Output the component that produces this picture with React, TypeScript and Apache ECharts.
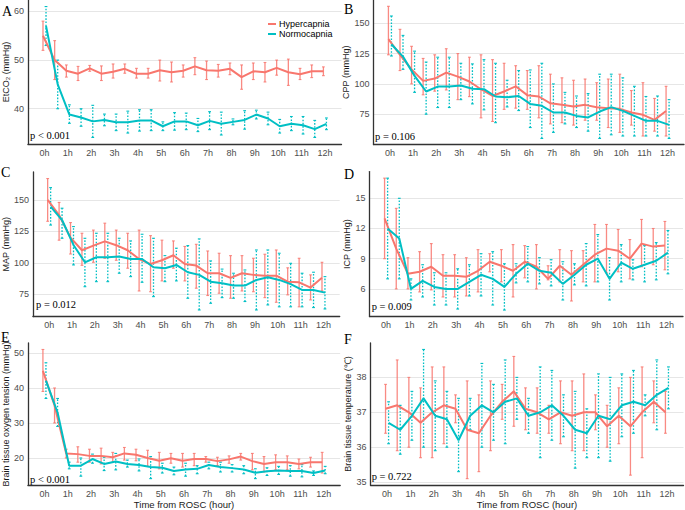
import React, { useEffect, useRef } from "react";
import * as echarts from "echarts";

const hours = [0, 0.5, 1, 1.5, 2, 2.5, 3, 3.5, 4, 4.5, 5, 5.5, 6, 6.5, 7, 7.5, 8, 8.5, 9, 9.5, 10, 10.5, 11, 11.5, 12];
const hourTicks = [0, 1, 2, 3, 4, 5, 6, 7, 8, 9, 10, 11, 12];
const groups = ["Hypercapnia", "Normocapnia"];

// A: EtCO2
const etco2HyperMean = [55, 50, 47.8, 47.2, 48.3, 47.2, 47.6, 48.2, 47.2, 47.2, 47.9, 47.5, 47.8, 48.7, 47.9, 47.8, 48.2, 46.5, 47.7, 47.5, 48.4, 47.5, 47.1, 47.7, 47.7];
const etco2HyperLo = [52, 46, 46.5, 45.8, 47.7, 45.8, 46.3, 47.3, 46.3, 46.3, 45.7, 45.5, 46.5, 47, 46, 46.5, 47, 44, 46, 45.5, 46.9, 44.8, 46, 46.4, 46.8];
const etco2HyperHi = [58, 54, 49, 48.7, 48.9, 48.8, 49.2, 49.2, 48.3, 48.3, 50, 49.6, 49, 50.5, 49.8, 49.1, 49.4, 49, 49.4, 49.5, 50, 50.2, 48.3, 49, 48.6];
const etco2NormoMean = [57, 45, 38.8, 38.2, 37.4, 37.7, 37.2, 37.2, 37.6, 37.6, 36.4, 37.4, 37.4, 36.6, 37.5, 36.9, 37.3, 37.7, 38.8, 38.0, 36.4, 36.9, 36.6, 35.8, 36.9];
const etco2NormoLo = [53, 40, 37, 36.4, 34.1, 36.5, 35.5, 35, 35.4, 35.5, 35.5, 35.6, 35.7, 35.3, 35.7, 34.6, 36.7, 35.8, 37.9, 36.7, 35, 35.5, 34.8, 34.1, 35.7];
const etco2NormoHi = [61, 50, 40.8, 40, 40.7, 38.9, 38.9, 39.5, 39.8, 39.8, 37.3, 39.2, 39.1, 38, 39.4, 39.3, 37.9, 39.6, 39.7, 39.3, 37.8, 38.4, 38.4, 37.6, 38.1];

// B: CPP
const cppHyperMean = [137, 124, 112, 102.5, 104.4, 109.3, 106, 102, 95.6, 90, 93.7, 98, 90.7, 89.6, 84, 82.7, 81.3, 82.7, 80.8, 80, 79.4, 76.4, 74.5, 70.3, 77.7];
const cppHyperLo = [124, 111, 100, 91, 94, 95, 87, 89.5, 72, 69, 79, 80, 79, 72, 67, 68, 66, 70, 70, 64, 60, 66, 57, 61, 57];
const cppHyperHi = [164, 145, 131, 121, 124, 129, 125, 122, 124, 120, 117, 115, 111, 115, 108, 105, 103, 104, 101, 104, 108, 94.5, 101, 88, 98];
const cppNormoMean = [132.7, 122.5, 106.6, 93.7, 97.8, 97.8, 98.6, 96, 95.6, 89.6, 89, 90, 83.5, 81.9, 76.4, 76.4, 73.6, 72.3, 77.2, 80.8, 77.7, 73.6, 69.5, 69.5, 66.2];
const cppNormoLo = [123, 112, 93, 75, 80.5, 80.5, 87, 83.5, 78.6, 68, 81, 78, 64, 55, 60, 67, 64, 61, 55, 58, 57, 57, 57, 57, 55];
const cppNormoHi = [156, 140, 127, 118, 122, 122, 117, 116.5, 120, 117, 103, 111, 111.5, 117, 100, 93, 90, 92, 108, 108, 105, 98, 89.6, 90, 87];

// C: MAP
const mapHyperMean = [150, 138, 120, 110, 113.7, 117, 114, 110, 103, 99, 102, 106, 99, 97.8, 91.7, 91.7, 88, 91.7, 90.4, 89.8, 89.8, 85, 84.5, 80.3, 88.2];
const mapHyperLo = [133, 118, 107, 98, 100.4, 103.6, 102, 95.7, 77.6, 77, 85.6, 95.7, 85.6, 79.8, 74, 75.8, 71.8, 77.6, 77, 72.3, 68.6, 74.5, 65, 70.5, 77.6];
const mapHyperHi = [167, 148, 132, 123.5, 126, 131.5, 126, 123.5, 126, 121.6, 118, 117.4, 113, 114.7, 109.4, 107.6, 105.7, 105.7, 103.6, 106.8, 110.2, 96, 103.6, 90.4, 100.4];
const mapNormoMean = [144.7, 134, 114.2, 100.4, 104.4, 104.4, 105, 103, 103, 96.5, 95.7, 98.3, 92.5, 90.4, 85, 83.7, 81.9, 81.9, 86.4, 88.5, 86.4, 83, 78.4, 78.4, 76.3];
const mapNormoLo = [130, 119.5, 98.3, 81, 85, 85, 91.7, 89, 84.5, 73.1, 85, 85.6, 71.8, 62.5, 67.8, 72.3, 71.8, 69.2, 62.5, 66.5, 65, 65, 65, 64.4, 63.3];
const mapNormoHi = [159.8, 143.4, 128.8, 119.5, 123.5, 123.5, 119.5, 117.4, 122.7, 119.5, 105.7, 111.6, 113.7, 119, 101.5, 95, 91.7, 94.3, 110.2, 110.2, 107.6, 99.6, 91.7, 92.5, 89];

// D: ICP
const icpHyperMean = [13, 10, 7.5, 7.7, 8.2, 7.3, 7.3, 7.2, 7.8, 8.7, 8.3, 7.8, 8.7, 8.2, 7.0, 8.3, 7.4, 8.4, 9.4, 10.0, 9.8, 9.0, 10.5, 10.2, 10.3];
const icpHyperLo = [9, 6, 6, 5.7, 5.9, 5.2, 5.2, 5.3, 5.7, 7.7, 6.7, 5.2, 7.1, 6, 6.9, 6.7, 4.8, 6.7, 6.7, 7.6, 7.7, 7, 8.2, 8.4, 7.9];
const icpHyperHi = [17, 14, 9.1, 9.7, 10.5, 9.4, 9.4, 9.1, 9.9, 9.5, 9.9, 10.4, 10.3, 10.4, 8.3, 9.9, 9.8, 9.8, 12.4, 12.4, 11.9, 10.9, 12.9, 12, 12.7];
const icpNormoMean = [12, 11, 6, 6.8, 6.2, 6.0, 6.0, 6.7, 7.4, 7.0, 6.2, 7.5, 8.5, 7.8, 7.6, 6.5, 7.4, 8.4, 9.0, 7.0, 8.6, 8.0, 8.4, 8.8, 9.6];
const icpNormoLo = [7, 7, 4.9, 5.2, 4.4, 4.4, 4, 5.3, 5.3, 4.4, 3.9, 6.6, 6.7, 6.5, 6.3, 4.9, 6.4, 6.3, 6.7, 4.9, 6.7, 6.9, 6.7, 6.9, 7.5];
const icpNormoHi = [17, 15, 7, 8.4, 7.6, 7.6, 8, 8.4, 9.5, 9.7, 8.5, 8.5, 10.2, 9.1, 8.9, 8.7, 8.5, 10.5, 11.4, 9.1, 10.4, 8.9, 10.3, 10.6, 11.8];

// E: Brain tissue oxygen tension
const pbto2HyperMean = [44.9, 35, 21.3, 21.1, 20.6, 20.6, 20.2, 21.3, 20.9, 20, 19.2, 19.9, 19.2, 19.7, 19.7, 19.1, 19.6, 20.4, 19.1, 18.3, 18.8, 18.8, 18.3, 18.8, 18.8];
const pbto2HyperLo = [39, 30, 20, 18.8, 18.8, 18.3, 18.8, 19.4, 19.2, 17.6, 16.9, 18.5, 17.4, 17.8, 18.8, 17.8, 18.5, 19.4, 16.6, 16, 16.6, 16.6, 16.9, 17.4, 15.7];
const pbto2HyperHi = [51, 40, 22.5, 23.2, 22.5, 22.8, 21.6, 23, 22.5, 22.2, 21.6, 21.3, 21.3, 21.3, 20.4, 20.2, 20.6, 21.3, 21.3, 20.4, 20.9, 20.6, 19.7, 20.2, 21.6];
const pbto2NormoMean = [42.1, 33, 17.8, 17.8, 19.7, 18.3, 19, 18.3, 18, 17.4, 17.2, 16.3, 16.7, 16.9, 18, 17.4, 17.1, 16.7, 15.8, 16.2, 16.4, 16.3, 16.3, 15.7, 16.4];
const pbto2NormoLo = [37, 29, 16.9, 14.8, 18.5, 16.4, 16.6, 17.4, 16.3, 14.1, 15.7, 15.2, 14.8, 15.5, 16.9, 16, 16, 15.5, 14.1, 15, 15.3, 14.8, 14.6, 15, 15.5];
const pbto2NormoHi = [47.2, 37, 18.8, 20, 21.1, 20.2, 21.3, 19.4, 19.7, 20.4, 18.5, 17.4, 18.5, 17.8, 18.8, 18.8, 18.1, 17.8, 16.9, 17.2, 17.6, 17.8, 18.1, 16.3, 17.6];

// F: Brain tissue temperature
const tempHyperMean = [37.1, 37.2, 37.0, 36.7, 37.0, 37.2, 37.1, 36.5, 36.4, 36.9, 37.3, 37.6, 37.1, 37.0, 36.8, 37.0, 36.9, 37.0, 37.0, 36.6, 36.9, 36.6, 37.0, 37.3, 37.0];
const tempHyperLo = [36.4, 35.9, 36, 35.7, 35.7, 36.1, 36.7, 35.1, 35.3, 35.9, 36.8, 36.6, 36.5, 36.4, 36.4, 36.1, 35.9, 35.9, 36.5, 36, 36.1, 35.2, 35.7, 36.7, 36.4];
const tempHyperHi = [37.8, 38.5, 38, 37.7, 38.3, 38.3, 37.5, 37.9, 37.5, 37.9, 37.8, 38.6, 37.7, 37.7, 37.2, 37.9, 37.9, 38.1, 37.5, 37.2, 37.7, 38, 38.3, 37.9, 37.6];
const tempNormoMean = [36.7, 36.5, 36.9, 37.4, 36.9, 36.8, 36.2, 36.9, 37.2, 37.0, 37.3, 37.4, 36.9, 37.0, 37.2, 36.9, 36.5, 36.4, 36.9, 36.8, 37.2, 37.3, 37.2, 37.5, 37.7];
const tempNormoLo = [36.1, 35.8, 36.2, 36, 35.9, 36, 35.3, 36.5, 36, 36.2, 36.1, 36.8, 36.4, 35.7, 36.2, 36.3, 35.4, 35.7, 35.7, 35.6, 36.3, 36.4, 36.9, 36.5, 37.1];
const tempNormoHi = [37.3, 37.2, 37.6, 38.8, 37.9, 37.6, 37.4, 37.4, 38.4, 37.8, 38.5, 38, 37.4, 38.3, 38.2, 37.5, 37.6, 37.1, 38.1, 38, 38.1, 38.2, 37.5, 38.5, 38.3];

const letters = ["A", "B", "C", "D", "E", "F"];
const yTitles = ["EtCO\u2082 (mmHg)", "CPP (mmHg)", "MAP (mmHg)", "ICP (mmHg)", "Brain tissue oxygen tension (mmHg)", "Brain tissue temperature (\u2103)"];
const yTickLists = [[40, 50, 60], [75, 100, 125, 150], [75, 100, 125, 150], [6, 9, 12, 15], [20, 30, 40, 50], [35, 36, 37, 38]];
const pTexts = ["p < 0.001", "p = 0.106", "p = 0.012", "p = 0.009", "p < 0.001", "p = 0.722"];
const xTitle = "Time from ROSC (hour)";

const RED = "#F8766D";
const TEAL = "#00BFC4";
const DODGE = 0.065;

const panelData = [
  [[etco2HyperMean, etco2HyperLo, etco2HyperHi], [etco2NormoMean, etco2NormoLo, etco2NormoHi]],
  [[cppHyperMean, cppHyperLo, cppHyperHi], [cppNormoMean, cppNormoLo, cppNormoHi]],
  [[mapHyperMean, mapHyperLo, mapHyperHi], [mapNormoMean, mapNormoLo, mapNormoHi]],
  [[icpHyperMean, icpHyperLo, icpHyperHi], [icpNormoMean, icpNormoLo, icpNormoHi]],
  [[pbto2HyperMean, pbto2HyperLo, pbto2HyperHi], [pbto2NormoMean, pbto2NormoLo, pbto2NormoHi]],
  [[tempHyperMean, tempHyperLo, tempHyperHi], [tempNormoMean, tempNormoLo, tempNormoHi]],
];

// layout (pixels)
const grids = [
  { left: 26.5, top: 0, width: 315, height: 144 },
  { left: 373.5, top: 0, width: 310.5, height: 144.5 },
  { left: 30.7, top: 172, width: 309, height: 144.5 },
  { left: 369.5, top: 171.6, width: 313.5, height: 145 },
  { left: 25.7, top: 343, width: 314.5, height: 145.5 },
  { left: 370.5, top: 343, width: 313, height: 145.7 },
];
const yRanges = [[32.75, 62.35], [50, 169.2], [57.3, 172.2], [3.25, 17.65], [12.25, 52.85], [34.915, 38.985]];
const yNameGaps = [13, 18, 15.5, 13, 12.5, 14];
const letterPos = [[2, 4], [344, 2], [1, 165], [344, 167], [1, 330], [344, 332]];
const pPos = [[30, 135], [375, 136.7], [36, 304], [371.7, 306.7], [30, 479], [371.7, 476.7]];

const SANS = "'Liberation Sans', Arial, Helvetica, sans-serif";
const SERIF = "'Liberation Serif', 'Times New Roman', serif";

function errRender(color: string, dash: number[] | null, opacity: number) {
  return (params: any, api: any) => {
    const x = api.value(0);
    const lo = api.value(1);
    const hi = api.value(2);
    const a = api.coord([x, lo]);
    const b = api.coord([x, hi]);
    const w = 1.4;
    const style: any = { stroke: color, lineWidth: 1.3, fill: null, opacity };
    if (dash) style.lineDash = dash;
    const cap = { stroke: color, lineWidth: 1.1, opacity };
    return {
      type: "group",
      children: [
        { type: "line", shape: { x1: a[0], y1: a[1], x2: b[0], y2: b[1] }, style },
        { type: "line", shape: { x1: b[0] - w, y1: b[1], x2: b[0] + w, y2: b[1] }, style: cap },
        { type: "line", shape: { x1: a[0] - w, y1: a[1], x2: a[0] + w, y2: a[1] }, style: cap },
      ],
    };
  };
}

export default function App() {
  const ref = useRef<HTMLDivElement>(null);
  useEffect(() => {
    if (!ref.current) return;
    const chart = echarts.init(ref.current, null, { renderer: "svg" });
    const series: any[] = [];
    panelData.forEach((pd, i) => {
      pd.forEach((g, gi) => {
        const color = gi === 0 ? RED : TEAL;
        const off = gi === 0 ? -DODGE : DODGE;
        series.push({
          type: "custom",
          name: groups[gi],
          xAxisIndex: i,
          yAxisIndex: i,
          renderItem: errRender(color, gi === 0 ? null : [1.6, 1.6], gi === 0 ? 0.85 : 1),
          data: hours.map((h, k) => [h + off, g[1][k], g[2][k]]),
          encode: { x: 0, y: [1, 2] },
          silent: true,
          z: 2,
        });
      });
      pd.forEach((g, gi) => {
        const color = gi === 0 ? RED : TEAL;
        const off = gi === 0 ? -DODGE : DODGE;
        series.push({
          type: "line",
          name: groups[gi],
          xAxisIndex: i,
          yAxisIndex: i,
          data: hours.map((h, k) => [h + off, g[0][k]]),
          showSymbol: false,
          lineStyle: { color, width: 2 },
          itemStyle: { color },
          silent: true,
          z: 3,
        });
      });
    });

    const graphic: any[] = [];
    letters.forEach((l, i) => {
      graphic.push({
        type: "text",
        x: letterPos[i][0],
        y: letterPos[i][1],
        style: { text: l, font: `14px ${SERIF}`, fill: "#000", textVerticalAlign: "top" },
      });
      graphic.push({
        type: "text",
        x: pPos[i][0],
        y: pPos[i][1],
        style: { text: pTexts[i], font: `10.5px ${SERIF}`, fill: "#000", textVerticalAlign: "middle" },
      });
    });
    // legend in panel A
    groups.forEach((g, gi) => {
      const y = 24 + gi * 10;
      const color = gi === 0 ? RED : TEAL;
      graphic.push({ type: "line", shape: { x1: 268, y1: y, x2: 276, y2: y }, style: { stroke: color, lineWidth: 2 } });
      graphic.push({
        type: "text",
        x: 279,
        y,
        style: { text: g, font: `9px ${SANS}`, fill: "#000", textVerticalAlign: "middle" },
      });
    });

    chart.setOption({
      animation: false,
      backgroundColor: "#fff",
      grid: grids.map((g) => ({ ...g, containLabel: false })),
      xAxis: grids.map((g, i) => ({
        type: "value",
        gridIndex: i,
        min: -0.71,
        max: 12.71,
        axisLine: { show: true, onZero: false, lineStyle: { color: "#333", width: 1.3 } },
        axisTick: { show: false, customValues: hourTicks },
        axisLabel: {
          customValues: hourTicks,
          formatter: (v: number) => `${v}h`,
          color: "#4D4D4D",
          fontSize: 9,
          fontFamily: SANS,
          margin: 4,
        },
        splitLine: { show: false },
        name: i >= 4 ? xTitle : "",
        nameLocation: "middle",
        nameGap: 10,
        nameTextStyle: { color: "#1a1a1a", fontSize: 9.5, fontFamily: SANS },
      })),
      yAxis: grids.map((g, i) => ({
        type: "value",
        gridIndex: i,
        min: yRanges[i][0],
        max: yRanges[i][1],
        axisLine: { show: true, onZero: false, lineStyle: { color: "#333", width: 1.3 } },
        axisTick: { show: false, customValues: yTickLists[i] },
        axisLabel: {
          customValues: yTickLists[i],
          color: "#4D4D4D",
          fontSize: 9,
          fontFamily: SANS,
          margin: 4,
        },
        splitLine: { show: true, lineStyle: { color: "#E6E6E6", width: 1 } },
        name: yTitles[i],
        nameLocation: "middle",
        nameRotate: 90,
        nameGap: yNameGaps[i],
        nameTextStyle: { color: "#1a1a1a", fontSize: 9, fontFamily: SANS },
      })),
      series,
      graphic,
    });
    return () => chart.dispose();
  }, []);
  return <div ref={ref} style={{ position: "absolute", left: 0, top: 0, width: 685, height: 510 }} />;
}
